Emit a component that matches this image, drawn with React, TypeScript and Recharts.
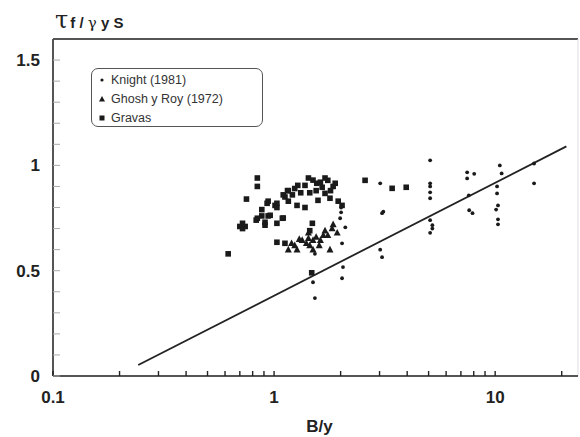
import React from 'react';
import { ScatterChart, Scatter, XAxis, YAxis, ReferenceLine } from 'recharts';

// Knight (1981)
const knight: number[][] = [
  [1.5, 0.445], [1.53, 0.37], [1.53, 0.58],
  [2.01, 0.8], [2.01, 0.777], [1.99, 0.749], [2.1, 0.706], [2.03, 0.63], [2.05, 0.517], [2.03, 0.464],
  [3.02, 0.915], [3.08, 0.773], [3.12, 0.78], [3.02, 0.6], [3.08, 0.564],
  [5.08, 1.024], [5.08, 0.915], [5.08, 0.9], [5.08, 0.872], [5.08, 0.844], [5.08, 0.74], [5.2, 0.716], [5.2, 0.7], [5.08, 0.68],
  [7.47, 0.967], [7.47, 0.938], [8.04, 0.96], [7.6, 0.858], [7.63, 0.787], [7.9, 0.773],
  [10.5, 1.0], [10.7, 0.962], [10.2, 0.9], [10.2, 0.867], [10.3, 0.81], [10.1, 0.79], [10.3, 0.744], [10.3, 0.72],
  [15.0, 1.009], [15.0, 0.915],
];

// Ghosh y Roy (1972)
const ghosh: number[][] = [
  [1.16, 0.6], [1.27, 0.6], [1.24, 0.62], [1.2, 0.63], [1.3, 0.65], [1.34, 0.645], [1.4, 0.63],
  [1.43, 0.654], [1.45, 0.62], [1.5, 0.645], [1.43, 0.68], [1.5, 0.6], [1.55, 0.66], [1.6, 0.62],
  [1.62, 0.645], [1.67, 0.668], [1.7, 0.69], [1.75, 0.668], [1.79, 0.6], [1.83, 0.7], [1.85, 0.72], [1.93, 0.68],
];

// Gravas
const gravas: number[][] = [
  [0.62, 0.58], [0.7, 0.71], [0.72, 0.7], [0.72, 0.725], [0.74, 0.71], [0.75, 0.84], [0.84, 0.94], [0.84, 0.9],
  [0.83, 0.74], [0.84, 0.749], [0.88, 0.79], [0.88, 0.76], [0.91, 0.73], [0.91, 0.716], [0.93, 0.82], [0.94, 0.76],
  [0.94, 0.83], [0.96, 0.763], [1.01, 0.81], [1.03, 0.82], [1.03, 0.8], [1.03, 0.725], [1.09, 0.749], [1.1, 0.75],
  [1.03, 0.635], [1.12, 0.63], [1.1, 0.86], [1.12, 0.85], [1.15, 0.88], [1.16, 0.88], [1.16, 0.83], [1.21, 0.86],
  [1.24, 0.89], [1.28, 0.905], [1.27, 0.81], [1.38, 0.905], [1.38, 0.8], [1.43, 0.94], [1.5, 0.93], [1.56, 0.915],
  [1.49, 0.725], [1.45, 0.69], [1.48, 0.49], [1.58, 0.834], [1.65, 0.896], [1.7, 0.867], [1.75, 0.929], [1.79, 0.844],
  [1.89, 0.915], [1.95, 0.83], [2.03, 0.81], [1.32, 0.87], [1.45, 0.87], [1.55, 0.88], [1.62, 0.92], [1.7, 0.94],
  [1.85, 0.9], [1.8, 0.88], [2.58, 0.929], [3.42, 0.891], [3.96, 0.896],
];

// fitted line
const fitLine: number[][] = [[0.243, 0.052], [21, 1.09]];

const xTicks = [0.1, 0.2, 0.3, 0.4, 0.5, 0.6, 0.7, 0.8, 0.9, 1, 2, 3, 4, 5, 6, 7, 8, 9, 10, 20];
const xLabels = [0.1, 1, 10];
const yTicks = [0, 0.1, 0.2, 0.3, 0.4, 0.5, 0.6, 0.7, 0.8, 0.9, 1, 1.1, 1.2, 1.3, 1.4, 1.5];
const yLabels = [0, 0.5, 1, 1.5];

const toPts = (arr: number[][]) => arr.map(([x, y]) => ({ x, y }));

const FONT = '"Liberation Sans", Arial, sans-serif';
const INK = '#1a1a1a';

const Dot = (p: any) => <circle cx={p.cx} cy={p.cy} r={1.9} fill={INK} />;
const Square = (p: any) => <rect x={p.cx - 2.8} y={p.cy - 2.8} width={5.6} height={5.6} fill={INK} />;
const Tri = (p: any) => (
  <polygon points={`${p.cx},${p.cy - 3.8} ${p.cx - 3.5},${p.cy + 2.8} ${p.cx + 3.5},${p.cy + 2.8}`} fill={INK} />
);
const NoShape = () => <g />;

const YTick = (p: any) => {
  const v = Math.round(p.payload.value * 10) / 10;
  return (
    <g>
      <line x1={p.x + 13} x2={p.x + 20} y1={p.y} y2={p.y} stroke="#aaa" strokeWidth={1} />
      {yLabels.includes(v) && (
        <text x={p.x} y={p.y + 6} textAnchor="end" fontFamily={FONT} fontWeight="bold" fontSize={17} fill="#222">
          {String(v)}
        </text>
      )}
    </g>
  );
};

const XTick = (p: any) => {
  const v = p.payload.value;
  return (
    <g>
      <line x1={p.x} x2={p.x} y1={p.y - 5} y2={p.y} stroke="#222" strokeWidth={1.4} />
      {xLabels.includes(v) && (
        <text x={p.x} y={p.y + 27} textAnchor="middle" fontFamily={FONT} fontWeight="bold" fontSize={17} fill="#222">
          {String(v)}
        </text>
      )}
    </g>
  );
};

const LegendBox = () => {
  const items = [
    { label: 'Knight (1981)', mark: <circle cx={5} cy={5} r={1.6} fill={INK} /> },
    { label: 'Ghosh y Roy (1972)', mark: <polygon points="5,2 2,7.5 8,7.5" fill={INK} /> },
    { label: 'Gravas', mark: <rect x={2.5} y={2.5} width={5} height={5} fill={INK} /> },
  ];
  return (
    <div
      style={{
        position: 'absolute', left: 91, top: 68, width: 172, height: 59,
        border: '1.3px solid #555', borderRadius: 7, background: '#fff',
        fontFamily: FONT, fontSize: 12.5, color: '#333', paddingTop: 1, boxSizing: 'border-box',
      }}
    >
      {items.map((it) => (
        <div key={it.label} style={{ display: 'flex', alignItems: 'center', height: 19, paddingLeft: 5 }}>
          <svg width={10} height={10} style={{ marginRight: 4 }}>{it.mark}</svg>
          <span>{it.label}</span>
        </div>
      ))}
    </div>
  );
};

export default function App() {
  return (
    <div style={{ position: 'absolute', left: 0, top: 0, width: 580, height: 437, background: '#fff' }}>
      <ScatterChart width={580} height={437} margin={{ top: 39, right: 2, left: 0, bottom: 31 }}>
        <XAxis
          dataKey="x"
          type="number"
          scale="log"
          domain={[0.1, 23.7]}
          allowDataOverflow
          ticks={xTicks}
          interval={0}
          height={30}
          tickSize={0}
          tickMargin={0}
          tickLine={false}
          tick={<XTick />}
          axisLine={{ stroke: '#555', strokeWidth: 2 }}
          label={(props: any) => {
            const vb = props.viewBox;
            return (
              <text x={vb.x + vb.width / 2 + 4} y={432} textAnchor="middle" fontFamily={FONT} fontWeight="bold" fontSize={17} fill="#222">
                B/y
              </text>
            );
          }}
        />
        <YAxis
          dataKey="y"
          type="number"
          domain={[0, 1.6]}
          allowDataOverflow
          ticks={yTicks}
          interval={0}
          width={53}
          tickSize={0}
          tickMargin={13}
          tickLine={false}
          tick={<YTick />}
          axisLine={{ stroke: '#555', strokeWidth: 2 }}
          label={(props: any) => {
            const vb = props.viewBox;
            return (
              <text x={vb.x + vb.width + 2} y={vb.y - 11} fontFamily={FONT} fill="#222">
                <tspan fontFamily='"DejaVu Serif", serif' fontSize={24}>τ</tspan>
                <tspan fontWeight="bold" fontSize={15} dx={2}>f / </tspan>
                <tspan fontFamily='"DejaVu Serif", serif' fontSize={15}>γ</tspan>
                <tspan fontWeight="bold" fontSize={15}> y S</tspan>
              </text>
            );
          }}
        />
        <ReferenceLine y={1.6} stroke="#555" strokeWidth={2} />
        <ReferenceLine x={23.7} stroke="#ddd" strokeWidth={1} />
        <Scatter data={toPts(fitLine)} line={{ stroke: '#222', strokeWidth: 1.8 }} shape={NoShape} isAnimationActive={false} />
        <Scatter data={toPts(gravas)} shape={Square} isAnimationActive={false} />
        <Scatter data={toPts(ghosh)} shape={Tri} isAnimationActive={false} />
        <Scatter data={toPts(knight)} shape={Dot} isAnimationActive={false} />
      </ScatterChart>
      <LegendBox />
    </div>
  );
}
